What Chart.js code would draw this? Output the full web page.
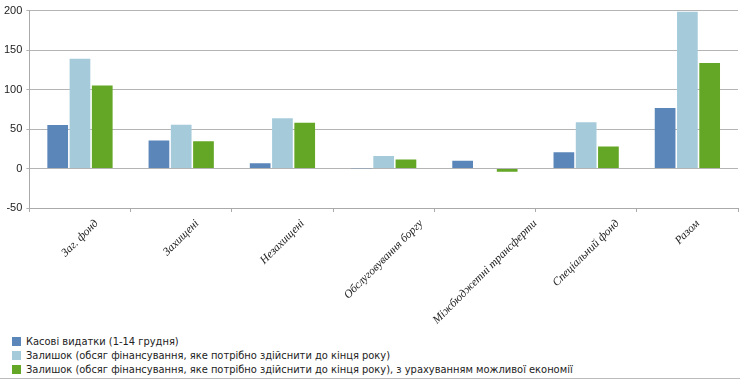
<!DOCTYPE html>
<html>
<head>
<meta charset="utf-8">
<script src="https://cdn.jsdelivr.net/npm/chart.js@4"></script>
<style>
  body { margin: 0; background: #fff; }
  #wrap { position: relative; width: 740px; height: 388px; }
  #chart-box { position: absolute; left: 0; top: 0; width: 740px; height: 328px; }
  #legend { position: absolute; left: 12px; top: 335px; font-family: "DejaVu Sans Condensed", "DejaVu Sans", sans-serif; font-size: 11px; color: #222; }
  #legend div { height: 14px; line-height: 14px; white-space: nowrap; }
  #legend span.box { display: inline-block; width: 9px; height: 9px; margin-right: 5px; vertical-align: -1px; }
  #bottom-line { position: absolute; left: 0; top: 378px; width: 740px; border-top: 1px solid #bbb; }
</style>
</head>
<body>
<div id="wrap">
  <div id="chart-box"><canvas id="chart"></canvas></div>
  <div id="legend"></div>
  <div id="bottom-line"></div>
</div>
<script>
// категорії
const categories = ['Заг. фонд', 'Захищені', 'Незахищені', 'Обслуговування боргу', 'Міжбюджетні трансферти', 'Спеціальний фонд', 'Разом'];

// серії
const kasovi = [55, 35.5, 6.8, 0.5, 9.8, 20.5, 76.5];
const zalyshok = [139, 55.5, 63.7, 15.8, 0, 58.5, 198.7];
const zalyshokEkon = [105, 34.6, 58, 11.5, -4, 28, 133.7];

const seriesNames = [
  'Касові видатки (1-14 грудня)',
  'Залишок (обсяг фінансування, яке потрібно здійснити до кінця року)',
  'Залишок (обсяг фінансування, яке потрібно здійснити до кінця року), з урахуванням можливої економії'
];
const seriesColors = ['#5b86ba', '#a5cbdb', '#64a625'];

const yTicks = [-50, 0, 50, 100, 150, 200];

// підписи категорій: повернуті на 45°, центровані під категорією (як в Excel)
const centeredLabels = {
  id: 'centeredLabels',
  afterDraw(chart) {
    const ctx = chart.ctx;
    const xScale = chart.scales.x;
    const axisY = chart.chartArea.bottom;
    const k = Math.SQRT1_2;
    ctx.save();
    ctx.font = 'italic 11.5px "Liberation Serif", serif';
    ctx.fillStyle = '#222';
    ctx.textAlign = 'center';
    ctx.textBaseline = 'middle';
    categories.forEach((label, i) => {
      const w = ctx.measureText(label).width;
      const cx = xScale.getPixelForValue(i);
      const cy = axisY + 11 + (w / 2 + 4) * k;
      ctx.save();
      ctx.translate(cx, cy);
      ctx.rotate(-Math.PI / 4);
      ctx.fillText(label, 0, 0);
      ctx.restore();
    });
    ctx.restore();
  }
};

window.onload = function() {
  const ctx = document.getElementById('chart').getContext('2d');
  const values = [kasovi, zalyshok, zalyshokEkon];

  const chart = new Chart(ctx, {
    type: 'bar',
    data: {
      labels: categories,
      datasets: values.map((v, i) => ({
        label: seriesNames[i],
        data: v,
        backgroundColor: seriesColors[i],
        borderWidth: 0,
        categoryPercentage: 0.66,
        barPercentage: 0.93
      }))
    },
    options: {
      responsive: true,
      maintainAspectRatio: false,
      animation: false,
      layout: { padding: { left: 0, right: 2, top: 8, bottom: 116 } },
      plugins: {
        legend: { display: false },
        tooltip: { enabled: false }
      },
      scales: {
        x: {
          grid: { drawOnChartArea: false, tickLength: 4, color: '#aaa' },
          border: { color: '#aaa' },
          ticks: { display: false }
        },
        y: {
          min: -50,
          max: 200,
          afterBuildTicks: function(axis) {
            axis.ticks = yTicks.map(v => ({ value: v }));
          },
          grid: { color: '#b4b4b4', lineWidth: 1, tickLength: 3 },
          border: { color: '#aaa' },
          ticks: {
            color: '#222',
            padding: 4,
            font: { family: '"Liberation Sans", sans-serif', size: 11 }
          }
        }
      }
    },
    plugins: [centeredLabels]
  });

  // легенда
  const legendEl = document.getElementById('legend');
  legendEl.innerHTML = chart.data.datasets.map(ds => `
    <div><span class="box" style="background:${ds.backgroundColor}"></span>${ds.label}</div>
  `).join('');
};
</script>
</body>
</html>
